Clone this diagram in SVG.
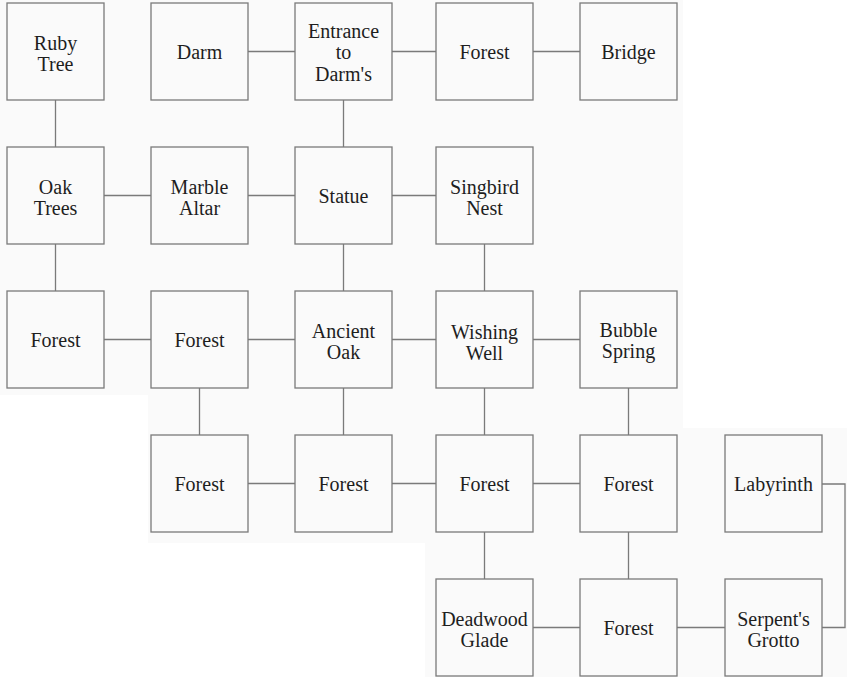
<svg xmlns="http://www.w3.org/2000/svg" width="847" height="677" viewBox="0 0 847 677">
<style>
.bx{fill:none;stroke:#7a7a7a;stroke-width:1.3}
.ln{fill:none;stroke:#7a7a7a;stroke-width:1.3}
text{font-size:20px;fill:#1e1e1e;text-anchor:middle}
</style>
<rect width="847" height="677" fill="#ffffff"/>
<polygon points="0,0 683,0 683,428 847,428 847,677 425,677 425,543 148,543 148,395 0,395" fill="#fafafa"/>
<g id="connectors">
<line class="ln" x1="55.5" y1="100" x2="55.5" y2="147"/>
<line class="ln" x1="248" y1="51.5" x2="295" y2="51.5"/>
<line class="ln" x1="392" y1="51.5" x2="436" y2="51.5"/>
<line class="ln" x1="533" y1="51.5" x2="580" y2="51.5"/>
<line class="ln" x1="343.5" y1="100" x2="343.5" y2="147"/>
<line class="ln" x1="104" y1="195.5" x2="151" y2="195.5"/>
<line class="ln" x1="248" y1="195.5" x2="295" y2="195.5"/>
<line class="ln" x1="392" y1="195.5" x2="436" y2="195.5"/>
<line class="ln" x1="55.5" y1="244" x2="55.5" y2="291"/>
<line class="ln" x1="343.5" y1="244" x2="343.5" y2="291"/>
<line class="ln" x1="484.5" y1="244" x2="484.5" y2="291"/>
<line class="ln" x1="104" y1="339.5" x2="151" y2="339.5"/>
<line class="ln" x1="248" y1="339.5" x2="295" y2="339.5"/>
<line class="ln" x1="392" y1="339.5" x2="436" y2="339.5"/>
<line class="ln" x1="533" y1="339.5" x2="580" y2="339.5"/>
<line class="ln" x1="199.5" y1="388" x2="199.5" y2="435"/>
<line class="ln" x1="343.5" y1="388" x2="343.5" y2="435"/>
<line class="ln" x1="484.5" y1="388" x2="484.5" y2="435"/>
<line class="ln" x1="628.5" y1="388" x2="628.5" y2="435"/>
<line class="ln" x1="248" y1="483.5" x2="295" y2="483.5"/>
<line class="ln" x1="392" y1="483.5" x2="436" y2="483.5"/>
<line class="ln" x1="533" y1="483.5" x2="580" y2="483.5"/>
<line class="ln" x1="484.5" y1="532" x2="484.5" y2="579"/>
<line class="ln" x1="628.5" y1="532" x2="628.5" y2="579"/>
<line class="ln" x1="533" y1="627.5" x2="580" y2="627.5"/>
<line class="ln" x1="677" y1="627.5" x2="725" y2="627.5"/>
<polyline class="ln" points="822,484 845,484 845,627.5 822,627.5"/>
</g>
<g id="nodes" font-family="Liberation Serif, Times New Roman, serif">
<g id="ruby-tree"><rect class="bx" x="7" y="3" width="97" height="97"/><text x="55.5" y="49.5">Ruby</text><text x="55.5" y="70.5">Tree</text></g>
<g id="darm"><rect class="bx" x="151" y="3" width="97" height="97"/><text x="199.5" y="58.5">Darm</text></g>
<g id="entrance"><rect class="bx" x="295" y="3" width="97" height="97"/><text x="343.5" y="38">Entrance</text><text x="343.5" y="59">to</text><text x="343.5" y="81">Darm's</text></g>
<g id="forest-1"><rect class="bx" x="436" y="3" width="97" height="97"/><text x="484.5" y="58.5">Forest</text></g>
<g id="bridge"><rect class="bx" x="580" y="3" width="97" height="97"/><text x="628.5" y="58.5">Bridge</text></g>
<g id="oak-trees"><rect class="bx" x="7" y="147" width="97" height="97"/><text x="55.5" y="193.5">Oak</text><text x="55.5" y="214.5">Trees</text></g>
<g id="marble-altar"><rect class="bx" x="151" y="147" width="97" height="97"/><text x="199.5" y="193.5">Marble</text><text x="199.5" y="214.5">Altar</text></g>
<g id="statue"><rect class="bx" x="295" y="147" width="97" height="97"/><text x="343.5" y="202.5">Statue</text></g>
<g id="singbird-nest"><rect class="bx" x="436" y="147" width="97" height="97"/><text x="484.5" y="193.5">Singbird</text><text x="484.5" y="214.5">Nest</text></g>
<g id="forest-2"><rect class="bx" x="7" y="291" width="97" height="97"/><text x="55.5" y="346.5">Forest</text></g>
<g id="forest-3"><rect class="bx" x="151" y="291" width="97" height="97"/><text x="199.5" y="346.5">Forest</text></g>
<g id="ancient-oak"><rect class="bx" x="295" y="291" width="97" height="97"/><text x="343.5" y="337.5">Ancient</text><text x="343.5" y="358.5">Oak</text></g>
<g id="wishing-well"><rect class="bx" x="436" y="291" width="97" height="97"/><text x="484.5" y="338.5">Wishing</text><text x="484.5" y="359.5">Well</text></g>
<g id="bubble-spring"><rect class="bx" x="580" y="291" width="97" height="97"/><text x="628.5" y="336.5">Bubble</text><text x="628.5" y="357.5">Spring</text></g>
<g id="forest-4"><rect class="bx" x="151" y="435" width="97" height="97"/><text x="199.5" y="490.5">Forest</text></g>
<g id="forest-5"><rect class="bx" x="295" y="435" width="97" height="97"/><text x="343.5" y="490.5">Forest</text></g>
<g id="forest-6"><rect class="bx" x="436" y="435" width="97" height="97"/><text x="484.5" y="490.5">Forest</text></g>
<g id="forest-7"><rect class="bx" x="580" y="435" width="97" height="97"/><text x="628.5" y="490.5">Forest</text></g>
<g id="labyrinth"><rect class="bx" x="725" y="435" width="97" height="97"/><text x="773.5" y="490.5">Labyrinth</text></g>
<g id="deadwood-glade"><rect class="bx" x="436" y="579" width="97" height="97"/><text x="484.5" y="625.5">Deadwood</text><text x="484.5" y="646.5">Glade</text></g>
<g id="forest-8"><rect class="bx" x="580" y="579" width="97" height="97"/><text x="628.5" y="634.5">Forest</text></g>
<g id="serpents-grotto"><rect class="bx" x="725" y="579" width="97" height="97"/><text x="773.5" y="625.5">Serpent's</text><text x="773.5" y="646.5">Grotto</text></g>
</g>
</svg>
